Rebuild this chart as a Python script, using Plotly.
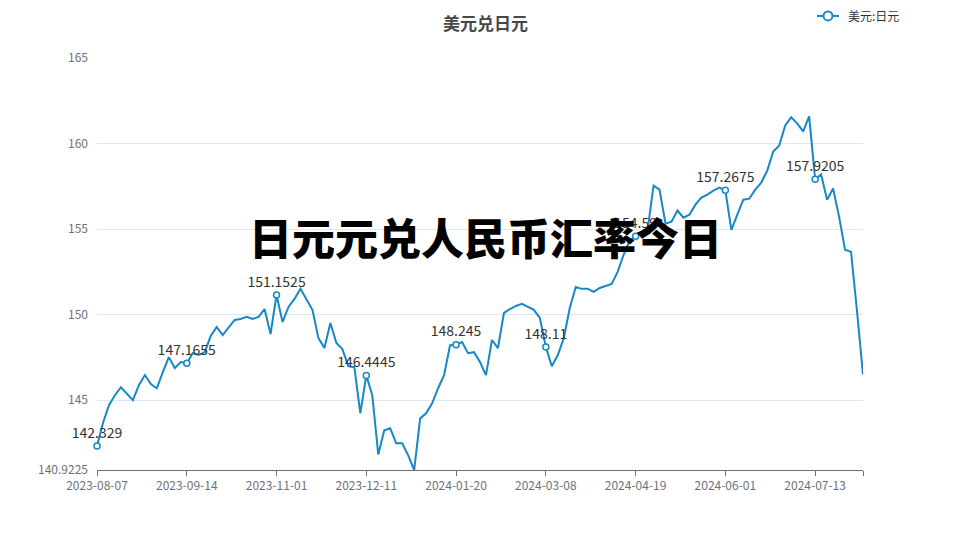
import plotly.graph_objects as go

title_text = "美元兑日元"
series_name = "美元:日元"
watermark = "日元元兑人民币汇率今日"

tick_labels = ["2023-08-07", "2023-09-14", "2023-11-01", "2023-12-11", "2024-01-20",
               "2024-03-08", "2024-04-19", "2024-06-01", "2024-07-13"]
label_every = 15

values = [
    142.329, 143.67, 144.71, 145.29, 145.76, 145.4, 145.0, 145.88, 146.47, 145.94,
    145.70, 146.64, 147.52, 146.88, 147.23, 147.1655, 147.75, 147.64, 147.81, 148.75,
    149.28, 148.81, 149.22, 149.69, 149.75, 149.87, 149.75, 149.87, 150.33, 148.87,
    151.1525, 149.57, 150.45, 150.92, 151.51, 150.86, 150.28, 148.63, 148.05, 149.51,
    148.34, 147.99, 146.99, 146.93, 144.24, 146.4445, 145.29, 141.83, 143.24, 143.36,
    142.48, 142.48, 141.78, 140.9225, 143.94, 144.24, 144.82, 145.70, 146.47, 148.22,
    148.245, 148.40, 147.75, 147.81, 147.23, 146.47, 148.52, 148.05, 150.10, 150.33,
    150.51, 150.63, 150.45, 150.28, 149.81, 148.11, 146.99, 147.64, 148.63, 150.39,
    151.62, 151.51, 151.51, 151.33, 151.56, 151.68, 151.80, 152.50, 153.50, 154.32,
    154.59, 154.73, 154.96, 157.54, 157.31, 155.32, 155.43, 156.08, 155.67, 155.84,
    156.43, 156.84, 157.02, 157.25, 157.43, 157.2675, 154.96, 155.84, 156.72, 156.78,
    157.31, 157.72, 158.42, 159.54, 159.89, 161.06, 161.53, 161.18, 160.71, 161.59,
    157.9205, 158.19, 156.72, 157.37, 155.73, 153.79, 153.67, 150.2, 146.5,
]

y_ticks = [145, 150, 155, 160, 165]
y_max = 165

line_color = "#1688c8"
font_family = "Noto Sans CJK SC, Noto Sans, sans-serif"

# geometry: the page puts the figure 8px in from the top-left corner
W, H = 960, 540
OFF = 8
L, T = 97 - OFF, 58 - OFF
PW, PH = 766, 411.6
R, B = W - L - PW, H - T - PH


def px(x):
    return (x - OFF - L) / PW


def py(y):
    return (T + PH - (y - OFF)) / PH


n = len(values)
xs = list(range(n))
y_min = min(values)
lab_x = xs[::label_every]
lab_y = values[::label_every]
lab_text = [repr(v) for v in lab_y]

fig = go.Figure()
fig.add_trace(go.Scatter(
    x=xs, y=values, mode="lines", line=dict(color=line_color, width=2),
    showlegend=False, hoverinfo="skip", cliponaxis=False,
))
fig.add_trace(go.Scatter(
    x=lab_x, y=lab_y, mode="markers+text", text=lab_text,
    textposition="top center",
    textfont=dict(size=14, color="#333333", family=font_family),
    marker=dict(symbol="circle", size=6, color="white",
                line=dict(color=line_color, width=1.5)),
    showlegend=False, cliponaxis=False,
))

tickvals_x = lab_x + [n - 1]
ticktext_x = tick_labels + [""]

# legend drawn by hand (line + open circle + text)
leg_y = 16
shapes = [
    dict(type="line", xref="paper", yref="paper", x0=px(817), x1=px(839),
         y0=py(leg_y), y1=py(leg_y), line=dict(color=line_color, width=2)),
    dict(type="circle", xref="paper", yref="paper", x0=px(823.5), x1=px(832.5),
         y0=py(leg_y + 4.5), y1=py(leg_y - 4.5), fillcolor="white",
         line=dict(color=line_color, width=2)),
]

fig.update_layout(
    width=W, height=H,
    margin=dict(l=L, r=R, t=T, b=B, autoexpand=False),
    paper_bgcolor="white", plot_bgcolor="white",
    font=dict(family=font_family, size=12, color="#6e7079"),
    showlegend=False,
    shapes=shapes,
    xaxis=dict(range=[0, n - 1], tickmode="array", tickvals=tickvals_x,
               ticktext=ticktext_x, showgrid=False, zeroline=False,
               showline=True, linecolor="#6e7079", linewidth=1,
               ticks="outside", ticklen=5, tickcolor="#6e7079",
               automargin=False,
               tickfont=dict(size=12, color="#6e7079")),
    yaxis=dict(range=[y_min, y_max], tickmode="array",
               tickvals=[y_min] + y_ticks,
               ticktext=[repr(y_min)] + [str(t) for t in y_ticks],
               showgrid=True, gridcolor="#e0e6f1", gridwidth=1,
               zeroline=False, showline=False, ticks="",
               ticklabelstandoff=8, automargin=False,
               tickfont=dict(size=12, color="#6e7079")),
    annotations=[
        dict(text=f"<b>{title_text}</b>", xref="paper", yref="paper",
             x=px(485), y=py(OFF + 1), xanchor="center", yanchor="top",
             showarrow=False, borderpad=0,
             font=dict(size=17, color="#464646", family=font_family)),
        dict(text=series_name, xref="paper", yref="paper",
             x=px(846), y=py(leg_y), xanchor="left", yanchor="middle",
             showarrow=False,
             font=dict(size=12, color="#333333", family=font_family)),
        dict(text=watermark, xref="paper", yref="paper",
             x=px(485), y=py(236),
             xanchor="center", yanchor="middle", showarrow=False,
             font=dict(size=43, color="#000000", family=font_family, weight=900)),
    ],
)

fig.write_html("out.html")
